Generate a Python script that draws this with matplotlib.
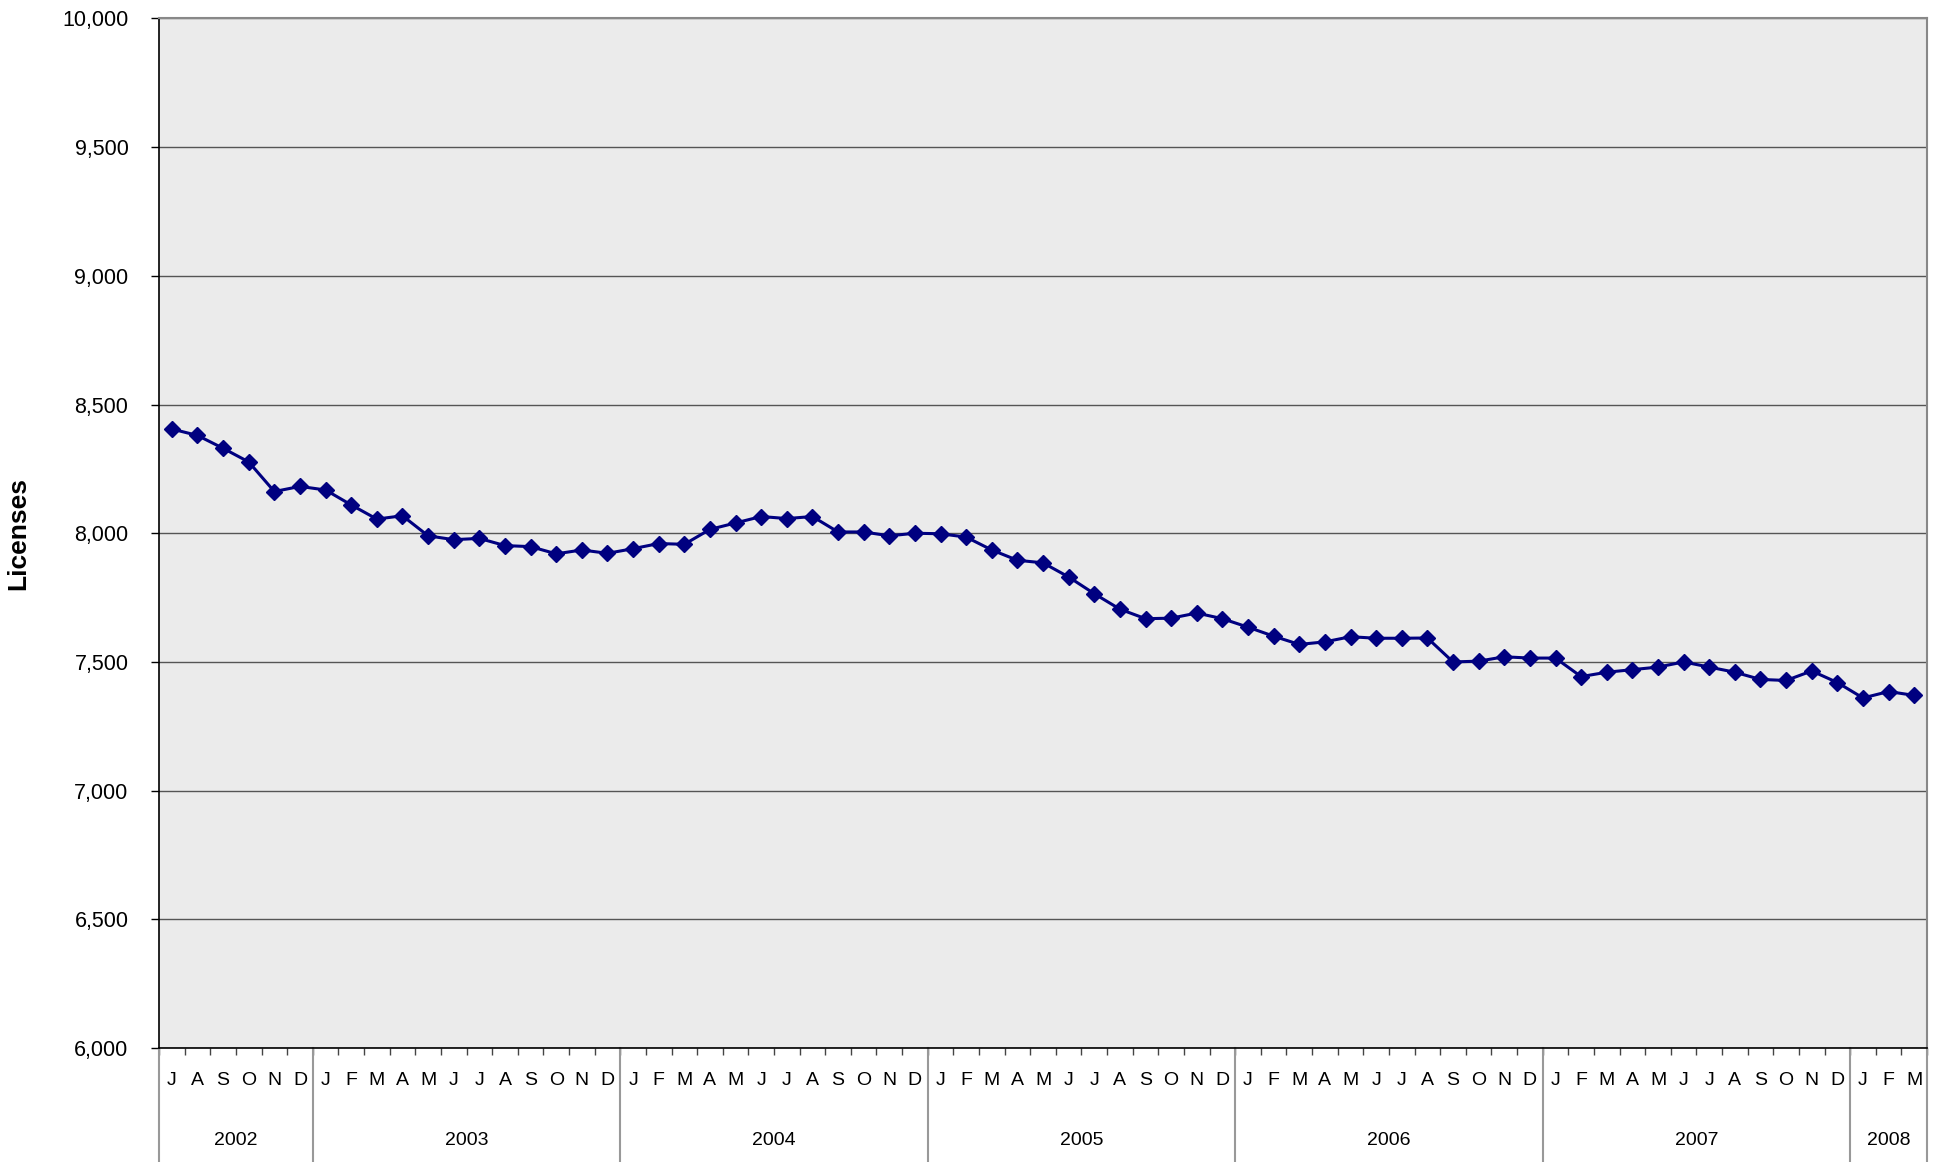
import matplotlib.pyplot as plt
import numpy as np

plt.rcParams['font.family'] = ['Liberation Sans', 'DejaVu Sans']

# monthly licence counts, Jul 2002 - Mar 2008
licenses = [
    8405, 8380, 8330, 8277, 8162, 8182,                                   # 2002
    8168, 8110, 8055, 8068, 7990, 7975, 7980, 7952, 7948, 7920, 7935, 7922,  # 2003
    7940, 7960, 7957, 8015, 8040, 8065, 8057, 8065, 8005, 8005, 7990, 8000,  # 2004
    7998, 7985, 7935, 7895, 7885, 7830, 7765, 7705, 7668, 7670, 7690, 7668,  # 2005
    7635, 7600, 7568, 7578, 7598, 7592, 7592, 7593, 7500, 7503, 7520, 7515,  # 2006
    7515, 7443, 7460, 7470, 7480, 7500, 7480, 7460, 7432, 7428, 7465, 7420,  # 2007
    7360, 7385, 7370,                                                     # 2008
]
years = ["2002", "2003", "2004", "2005", "2006", "2007", "2008"]
months_per_year = [6, 12, 12, 12, 12, 12, 3]
month_letters = (list("JASOND") + list("JFMAMJJASOND") * 5 + list("JFM"))

fig = plt.figure(figsize=(19.42, 11.62), dpi=100)
ax = fig.add_axes([0.0819, 0.0981, 0.9104, 0.886])
ax.set_facecolor("#ebebeb")

x = np.arange(len(licenses))
ax.plot(x, licenses, color="#000080", lw=2.2, marker="D", markersize=8,
        zorder=3)

ax.set_xlim(-0.5, len(licenses) - 0.5)
ax.set_ylim(6000, 10000)
ax.set_yticks(np.arange(6000, 10001, 500))
ax.set_yticklabels([f"{v:,}" for v in range(6000, 10001, 500)], fontsize=15.5)
ax.yaxis.grid(True, color="#555555", lw=1.0)
ax.set_axisbelow(True)
ax.tick_params(axis="y", length=6, width=1, pad=16)

# month boundary ticks, letters drawn as text
ax.set_xticks(np.arange(-0.5, len(licenses), 1.0))
ax.set_xticklabels([])
ax.tick_params(axis="x", length=5, width=1, color="#444444")

trans = ax.get_xaxis_transform()
for i, m in enumerate(month_letters):
    ax.text(i, -0.032, m, transform=trans, ha="center", va="center",
            fontsize=14)

start = -0.5
for yr, n in zip(years, months_per_year):
    ax.text(start + n / 2, -0.09, yr, transform=trans, ha="center",
            va="center", fontsize=14)
    if start > -0.5:
        ax.plot([start, start], [0, -0.12], transform=trans, color="#999999",
                lw=1.5, clip_on=False)
    start += n
ax.plot([-0.5, -0.5], [0, -0.12], transform=trans, color="#999999",
        lw=1.5, clip_on=False)
ax.plot([start, start], [0, -0.12], transform=trans, color="#999999",
        lw=1.5, clip_on=False)

for s in ["top", "right"]:
    ax.spines[s].set_color("#888888")
    ax.spines[s].set_linewidth(1.5)
ax.spines["left"].set_linewidth(1.2)
ax.spines["bottom"].set_linewidth(1.2)

ax.set_ylabel("Licenses", fontsize=19, fontweight="bold")
ax.yaxis.set_label_coords(-0.073, 0.5)

fig.savefig("out.png", dpi=100)
